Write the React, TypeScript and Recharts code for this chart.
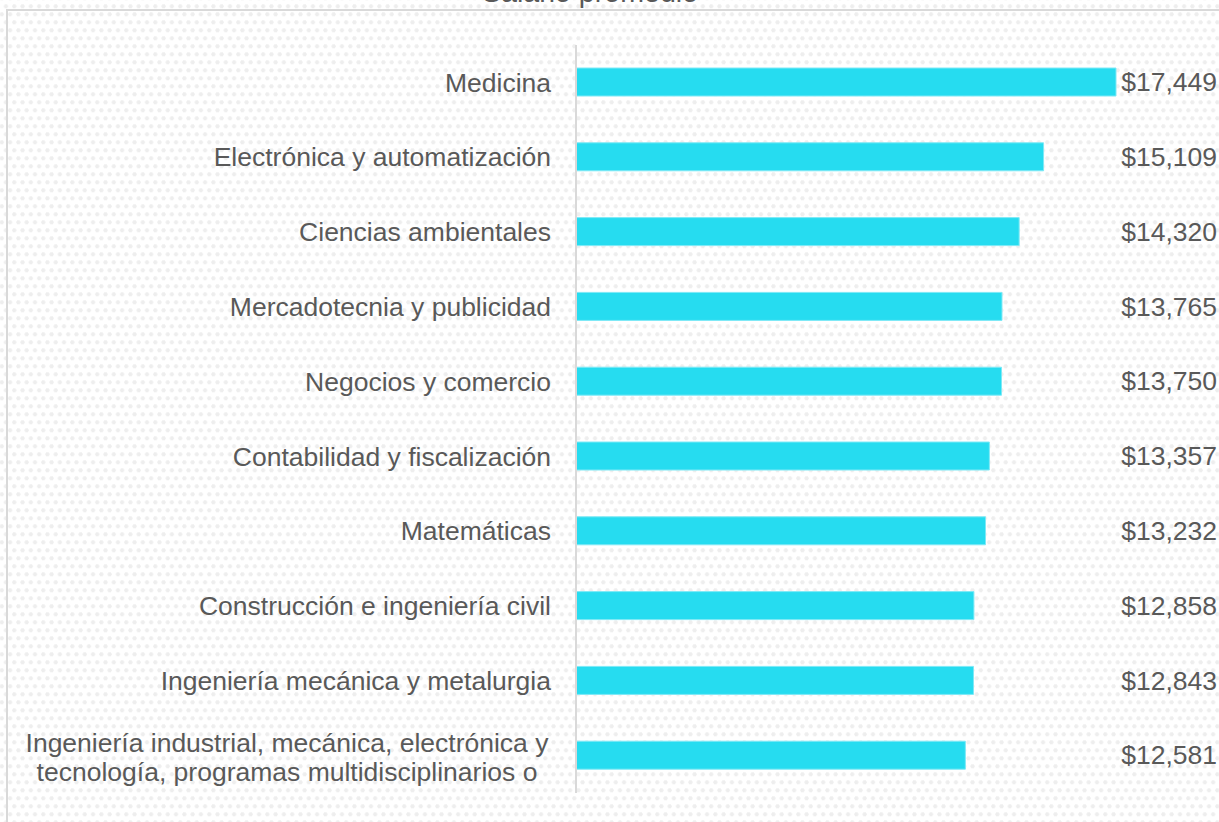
import React from 'react';
import { BarChart, Bar, XAxis, YAxis, LabelList } from 'recharts';

// Salario promedio por carrera
const careers = [
  'Medicina',
  'Electrónica y automatización',
  'Ciencias ambientales',
  'Mercadotecnia y publicidad',
  'Negocios y comercio',
  'Contabilidad y fiscalización',
  'Matemáticas',
  'Construcción e ingeniería civil',
  'Ingeniería mecánica y metalurgia',
  'Ingeniería industrial, mecánica, electrónica y\ntecnología, programas multidisciplinarios o',
];
const salaries = [17449, 15109, 14320, 13765, 13750, 13357, 13232, 12858, 12843, 12581];

const chartData = careers.map((career, i) => ({ career, salary: salaries[i] }));

const FONT = '"Liberation Sans", Arial, sans-serif';
const TEXT = '#595959';

const CareerTick = ({ x, y, payload }: any) => {
  const lines = String(payload.value).split('\n');
  if (lines.length === 1) {
    return (
      <text x={x} y={y} dy="0.35em" textAnchor="end" fill={TEXT} fontSize={26.5} fontFamily={FONT}>
        {lines[0]}
      </text>
    );
  }
  // multi-line labels are centred as a block
  const lineH = 29;
  const top = y + 2 - ((lines.length - 1) * lineH) / 2;
  return (
    <text textAnchor="middle" fill={TEXT} fontSize={26.5} fontFamily={FONT}>
      {lines.map((l, i) => (
        <tspan key={i} x={x - 264} y={top + i * lineH} dy="0.35em">{l}</tspan>
      ))}
    </text>
  );
};

const SalaryLabel = ({ y, height, value }: any) => (
  <text x={1217} y={y + height / 2} dy="0.35em" textAnchor="end" fill={TEXT} fontSize={26.5} fontFamily={FONT}>
    {'$' + Number(value).toLocaleString('en-US')}
  </text>
);

const App: React.FC = () => {
  return (
    <div
      style={{
        position: 'absolute',
        left: 0,
        top: 0,
        width: 1219,
        height: 822,
        overflow: 'hidden',
        backgroundColor: '#ffffff',
        backgroundImage:
          'radial-gradient(circle, #eeeeee 1.8px, transparent 2.3px), radial-gradient(circle, #eeeeee 1.8px, transparent 2.3px)',
        backgroundSize: '8.3px 16px, 8.3px 16px',
        backgroundPosition: '1.8px -1.7px, 5.95px 6.3px',
      }}
    >
      <div
        style={{
          position: 'absolute',
          left: 6,
          top: 9,
          width: 1400,
          height: 1000,
          borderLeft: '2px solid #d9d9d9',
          borderTop: '2px solid #d9d9d9',
        }}
      />
      <svg width={1219} height={20} style={{ position: 'absolute', left: 0, top: 0 }}>
        <text x={590} y={2} textAnchor="middle" fill={TEXT} fontSize={28.6} fontFamily={FONT}>
          Salario promedio
        </text>
      </svg>
      <div style={{ position: 'absolute', left: 0, top: 0 }}>
        <BarChart
          width={1219}
          height={822}
          data={chartData}
          layout="vertical"
          margin={{ top: 45, right: 103, bottom: 29, left: 0 }}
        >
          <XAxis type="number" hide domain={[0, 'dataMax']} />
          <YAxis
            type="category"
            dataKey="career"
            width={576}
            tickSize={0}
            tickMargin={25}
            tickLine={false}
            axisLine={{ stroke: '#d9d9d9', strokeWidth: 2 }}
            tick={<CareerTick />}
            interval={0}
          />
          <Bar
            dataKey="salary"
            fill="#26dcf0"
            stroke="#7ee9f6"
            strokeWidth={1}
            barSize={28}
            isAnimationActive={false}
          >
            <LabelList dataKey="salary" content={<SalaryLabel />} />
          </Bar>
        </BarChart>
      </div>
    </div>
  );
};

export default App;
